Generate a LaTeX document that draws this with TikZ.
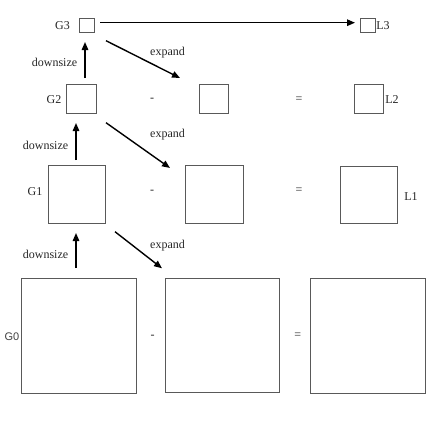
\documentclass[tikz,border=0pt]{standalone}
\usepackage{fontspec}
\setmainfont{Liberation Serif}
\newfontfamily\glabel{Liberation Sans}
\usetikzlibrary{arrows.meta}
\begin{document}
\begin{tikzpicture}[x=1pt,y=-1pt,
  img/.style={draw=black!65,line width=0.9pt,inner sep=0pt,outer sep=0pt,minimum size=#1},
  txt/.style={inner sep=0pt,font=\fontsize{12}{14}\selectfont,text=black!85},
  arr/.style={draw=black,line width=1.4pt,-{Triangle[length=8pt,width=6.5pt]}}]
\useasboundingbox (0,0) rectangle (438,420);
% boxes
\node[img=14.5pt] (G3) at (87,25.5) {};
\node[img=14.5pt] (L3) at (368,25.5) {};
\node[img=29.5pt] (G2) at (81.5,99) {};
\node[img=29pt] (E2) at (214,99) {};
\node[img=29pt] (L2) at (368.5,99) {};
\node[img=57.5pt] (G1) at (77,194.5) {};
\node[img=58pt] (E1) at (214,194.5) {};
\node[img=57pt] (L1) at (368.5,194.5) {};
\node[img=115pt] (G0) at (79,335.5) {};
\node[img=114pt] (E0) at (222.5,335.5) {};
\node[img=115pt] (L0) at (367.5,335.5) {};
% labels
\node[txt] (tG3) at (62.5,26) {G3};
\node[txt] (tL3) at (383,26) {L3};
\node[txt] (tG2) at (54,100) {G2};
\node[txt] (tL2) at (392,100) {L2};
\node[txt] (tG1) at (35,192) {G1};
\node[txt] (tL1) at (411,196.5) {L1};
\node[txt,font=\glabel\fontsize{11}{13}\selectfont,text=black!75] (tG0) at (12,336.5) {G0};
\node[txt] (d3) at (54.5,62) {downsize};
\node[txt] (d2) at (45.5,145) {downsize};
\node[txt] (d1) at (45.5,254) {downsize};
\node[txt] (e3) at (167.5,53) {expand};
\node[txt] (e2) at (167.5,135) {expand};
\node[txt] (e1) at (167.5,246) {expand};
\node[txt] (m2) at (152,100) {-};
\node[txt] (m1) at (152,192) {-};
\node[txt] (m0) at (152.7,336.5) {-};
\node[txt] (q2) at (299,100) {=};
\node[txt] (q1) at (299,191) {=};
\node[txt] (q0) at (297.7,336) {=};
% connector end points
\coordinate (hs) at (100,22.7);
\coordinate (he) at (355,22.7);
\coordinate (u3s) at (85,78);
\coordinate (u3e) at (85,42);
\coordinate (u2s) at (76,160);
\coordinate (u2e) at (76,123);
\coordinate (u1s) at (76,268);
\coordinate (u1e) at (76,233);
\coordinate (x3s) at (106,40.7);
\coordinate (x3e) at (180,78);
\coordinate (x2s) at (106,122.7);
\coordinate (x2e) at (170,168);
\coordinate (x1s) at (115,231.7);
\coordinate (x1e) at (162,268.3);
% connectors
\draw[arr] (hs) -- (he);
\draw[arr] (u3s) -- (u3e);
\draw[arr] (u2s) -- (u2e);
\draw[arr] (u1s) -- (u1e);
\draw[arr] (x3s) -- (x3e);
\draw[arr] (x2s) -- (x2e);
\draw[arr] (x1s) -- (x1e);
\end{tikzpicture}
\end{document}
